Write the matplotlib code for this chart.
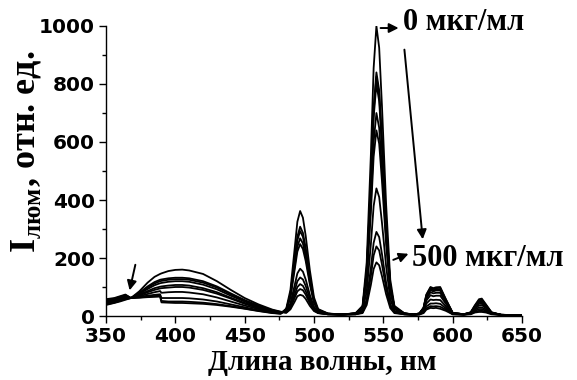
import matplotlib
matplotlib.use("Agg")
import matplotlib.pyplot as plt
from matplotlib.ticker import MultipleLocator

# длины волн, нм
wl = [350, 356, 360, 364, 368, 374, 380, 385, 389, 390, 395, 400, 405, 410,
      420, 430, 440, 450, 460, 470, 476,
      480, 483, 486, 488, 490, 492, 494, 497, 500, 503, 510, 520, 530,
      535, 538, 541, 543, 545, 547, 549, 552, 555, 558, 565,
      572, 576, 579, 581, 584, 586, 588, 591, 595, 600, 608,
      613, 616, 619, 621, 624, 628, 635, 650]

# спектры от 0 до 500 мкг/мл
s1 = [58, 62, 68, 74, 62, 63, 65, 66, 67, 47, 46, 45, 45, 44, 42, 38, 32, 25, 17, 10, 8,
      26, 90, 230, 325, 362, 339, 277, 158, 64, 24, 9, 5, 10,
      35, 185, 555, 855, 1000, 925, 725, 385, 125, 35, 10,
      5, 9, 29, 74, 100, 96, 99, 100, 59, 11, 6,
      13, 37, 58, 60, 40, 13, 4, 3]
s2 = [55, 60, 66, 72, 62, 64, 67, 69, 70, 52, 50, 50, 50, 49, 46, 41, 34, 26, 18, 11, 8,
      23, 77, 195, 274, 308, 287, 235, 134, 55, 21, 8, 5, 9,
      30, 156, 467, 719, 840, 778, 610, 324, 106, 30, 9,
      5, 9, 28, 72, 98, 93, 96, 97, 57, 11, 6,
      12, 35, 54, 56, 38, 12, 4, 3]
s3 = [53, 58, 64, 70, 62, 66, 70, 73, 75, 62, 62, 62, 62, 61, 57, 50, 40, 30, 20, 12, 9,
      22, 74, 186, 261, 293, 273, 224, 128, 52, 20, 8, 5, 9,
      30, 154, 459, 706, 825, 764, 599, 319, 104, 30, 9,
      5, 9, 27, 68, 93, 89, 91, 92, 55, 10, 6,
      12, 33, 50, 52, 35, 12, 4, 3]
s4 = [50, 56, 62, 68, 62, 68, 76, 82, 86, 80, 82, 83, 83, 81, 75, 64, 50, 36, 24, 14, 10,
      21, 68, 170, 239, 268, 250, 205, 117, 48, 19, 8, 5, 9,
      29, 149, 445, 685, 800, 741, 581, 309, 101, 29, 9,
      5, 8, 26, 66, 89, 85, 88, 88, 52, 10, 6,
      11, 30, 47, 48, 33, 11, 4, 3]
s5 = [48, 54, 60, 67, 62, 71, 82, 90, 95, 96, 98, 100, 100, 98, 90, 77, 60, 42, 27, 16, 11,
      20, 63, 158, 222, 248, 231, 190, 109, 45, 18, 7, 5, 9,
      26, 131, 390, 600, 700, 649, 509, 271, 89, 26, 8,
      5, 8, 24, 60, 82, 78, 80, 80, 48, 10, 6,
      11, 28, 43, 44, 30, 11, 4, 3]
s6 = [46, 52, 58, 65, 62, 73, 86, 96, 101, 102, 105, 107, 107, 105, 96, 82, 63, 45, 29, 17, 11,
      16, 44, 105, 147, 163, 153, 126, 73, 32, 14, 7, 5, 8,
      24, 120, 357, 549, 640, 594, 466, 248, 82, 24, 8,
      5, 8, 22, 53, 72, 68, 70, 70, 43, 9, 5,
      10, 25, 37, 38, 27, 10, 4, 3]
s7 = [44, 50, 56, 62, 62, 76, 93, 106, 113, 114, 118, 120, 120, 118, 108, 92, 70, 50, 32, 18, 12,
      15, 37, 87, 120, 133, 126, 104, 61, 27, 13, 6, 5, 7,
      18, 84, 247, 379, 440, 410, 322, 172, 58, 18, 7,
      5, 7, 18, 43, 57, 55, 56, 55, 34, 8, 5,
      9, 21, 30, 30, 22, 9, 4, 3]
s8 = [42, 48, 54, 60, 62, 78, 98, 112, 120, 121, 125, 127, 127, 125, 115, 98, 75, 52, 34, 19, 13,
      13, 32, 72, 100, 110, 104, 86, 51, 23, 11, 6, 5, 6,
      14, 57, 165, 252, 290, 272, 214, 115, 40, 14, 6,
      4, 6, 15, 33, 43, 43, 44, 42, 27, 7, 5,
      8, 17, 24, 24, 18, 8, 4, 3]
s9 = [40, 46, 52, 58, 62, 80, 102, 117, 125, 126, 130, 132, 132, 130, 120, 102, 78, 55, 36, 20, 14,
      12, 28, 62, 85, 93, 89, 74, 44, 20, 10, 6, 5, 6,
      12, 48, 137, 209, 240, 226, 178, 96, 34, 12, 6,
      4, 6, 12, 26, 34, 33, 34, 32, 22, 6, 5,
      7, 14, 18, 18, 15, 7, 4, 3]
s10 = [38, 45, 50, 56, 62, 85, 115, 135, 145, 147, 155, 159, 160, 157, 145, 120, 90, 62, 40, 22, 15,
       11, 23, 49, 68, 73, 70, 59, 35, 17, 10, 6, 5, 6,
       10, 38, 107, 162, 185, 175, 138, 75, 27, 10, 6,
       4, 5, 10, 22, 28, 27, 28, 25, 18, 6, 5,
       6, 12, 14, 14, 12, 6, 4, 3]

spectra = [s1, s2, s3, s4, s5, s6, s7, s8, s9, s10]

serif = "Liberation Serif"
sans = "DejaVu Sans"
plt.rcParams["mathtext.fontset"] = "custom"
plt.rcParams["mathtext.bf"] = "Liberation Serif:bold"
plt.rcParams["mathtext.rm"] = "Liberation Serif:bold"

fig = plt.figure(figsize=(5.77, 3.8), dpi=100)
ax = fig.add_axes([0.1837, 0.1684, 0.7210, 0.7632])

for s in spectra:
    ax.plot(wl, s, color="black", lw=1.3)

ax.set_xlim(350, 650)
ax.set_ylim(0, 1000)
ax.xaxis.set_major_locator(MultipleLocator(50))
ax.xaxis.set_minor_locator(MultipleLocator(25))
ax.yaxis.set_major_locator(MultipleLocator(200))
ax.yaxis.set_minor_locator(MultipleLocator(100))
ax.spines["top"].set_visible(False)
ax.spines["right"].set_visible(False)
for sp in ("left", "bottom"):
    ax.spines[sp].set_linewidth(1.0)
ax.tick_params(which="major", direction="out", length=5, width=1.0, pad=3)
ax.tick_params(which="minor", direction="out", length=3, width=1.0)
for lab in ax.get_xticklabels() + ax.get_yticklabels():
    lab.set_fontfamily(sans)
    lab.set_fontweight("bold")
    lab.set_fontsize(14.5)

# подписи осей
fig.text(0.558, 0.026, "Длина волны, нм", fontfamily=serif, fontweight="bold",
         fontsize=21, ha="center", va="baseline")
fig.text(0.045, 0.6, r"$\mathbf{I}_{\mathbf{люм}}$, отн. ед.", fontfamily=serif,
         fontweight="bold", fontsize=26, rotation=90, ha="center", va="center")

arrow = dict(arrowstyle="-|>", color="black", lw=1.4, mutation_scale=14)

ax.annotate("", xy=(563, 993), xytext=(546, 993), arrowprops=arrow,
            annotation_clip=False)
ax.text(564, 1012, "0 мкг/мл", fontfamily=serif, fontweight="bold",
        fontsize=22, va="center", clip_on=False)
ax.annotate("", xy=(578.6, 255), xytext=(565, 928), arrowprops=arrow)
ax.annotate("", xy=(570, 218), xytext=(555.3, 190), arrowprops=arrow)
ax.text(571, 200, "500 мкг/мл", fontfamily=serif, fontweight="bold",
        fontsize=22, va="center", clip_on=False)
ax.annotate("", xy=(366.6, 79), xytext=(371.6, 186), arrowprops=arrow)

fig.savefig("out.png", dpi=100)
